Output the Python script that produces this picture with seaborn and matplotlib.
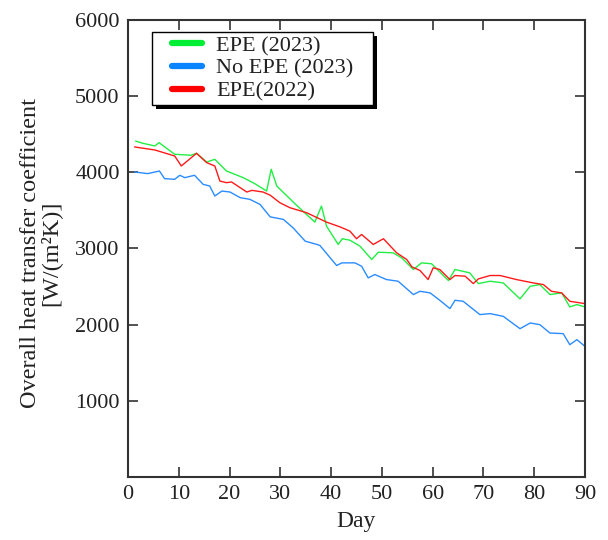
import matplotlib
matplotlib.use("Agg")
import matplotlib.pyplot as plt
import seaborn as sns
import pandas as pd
from matplotlib.lines import Line2D
from matplotlib.patches import Rectangle
from matplotlib.transforms import IdentityTransform

# ---- data ----
green_day = [1.5, 3, 5.3, 6.1, 9.2, 12.4, 13.5, 15.5, 17.1, 19.4, 22.7, 25, 27.3, 28.2, 29.3,
             33, 36.8, 38.1, 39.1, 41.4, 42.2, 43.7, 45.7, 48, 49.3, 52.2, 53.9, 56.2, 57.8,
             59.8, 63.1, 64.4, 67.3, 69, 71.3, 73.9, 77.2, 79.2, 81.1, 83.1, 85.4, 87, 88.4, 90]
green_val = [4410, 4380, 4346, 4390, 4237, 4224, 4250, 4135, 4171, 4017, 3930, 3850, 3754, 4040, 3820,
             3580, 3346, 3557, 3293, 3053, 3128, 3109, 3030, 2855, 2951, 2943, 2877, 2724, 2811,
             2799, 2579, 2724, 2680, 2539, 2570, 2548, 2338, 2504, 2526, 2395, 2417, 2233, 2263, 2233]

red_day = [1.3, 5.3, 9.2, 10.5, 13.5, 15.5, 17.1, 18.1, 19.4, 20.4, 23.4, 24.4, 26.6, 28, 29.9,
           31.9, 35.2, 39.1, 41.7, 43.7, 45, 46, 48.3, 50.3, 52.9, 54.9, 55.9, 57.5, 59.1, 60.1,
           61.4, 63.4, 64.4, 66.4, 68, 69, 71.3, 73.3, 76.5, 79.8, 81.8, 83.4, 85.4, 87, 90]
red_val = [4333, 4293, 4214, 4083, 4250, 4127, 4083, 3885, 3864, 3873, 3741, 3763, 3741, 3700, 3601,
           3535, 3469, 3346, 3285, 3228, 3128, 3184, 3053, 3128, 2943, 2855, 2759, 2711, 2592, 2746,
           2724, 2592, 2645, 2636, 2539, 2601, 2645, 2645, 2592, 2548, 2526, 2438, 2417, 2307, 2276]

blue_day = [1.3, 3.9, 6.2, 7.2, 9.2, 10.2, 11.2, 13.1, 14.8, 16.1, 17.1, 18.5, 20.1, 22.1, 24, 26,
            28, 30.6, 32.5, 34.9, 37.2, 37.8, 40.1, 41.1, 42.1, 44.7, 46, 47.3, 48.6, 50.9, 53.2,
            56.2, 57.5, 59.5, 61.4, 63.4, 64.4, 66, 69.3, 71.3, 73.9, 77.2, 79.2, 81.1, 83.1, 85.7,
            87, 88.4, 90]
blue_val = [4004, 3983, 4017, 3917, 3908, 3961, 3930, 3961, 3842, 3820, 3689, 3754, 3741, 3667, 3645, 3579,
            3415, 3382, 3272, 3096, 3053, 3039, 2855, 2776, 2811, 2811, 2767, 2614, 2658, 2592, 2570,
            2395, 2438, 2417, 2320, 2211, 2320, 2307, 2132, 2145, 2109, 1947, 2022, 2000, 1890, 1882,
            1737, 1803, 1715]

series_names = ["EPE (2023)", "No EPE (2023)", "EPE(2022)"]
line_colors = ["#22ee44", "#2a8cff", "#ff1a1a"]
legend_colors = ["#00ee33", "#0a84ff", "#ff0000"]
x_ticks = [0, 10, 20, 30, 40, 50, 60, 70, 80, 90]
y_ticks = [1000, 2000, 3000, 4000, 5000, 6000]

df = pd.concat([
    pd.DataFrame({"Day": green_day, "U": green_val, "series": series_names[0]}),
    pd.DataFrame({"Day": blue_day, "U": blue_val, "series": series_names[1]}),
    pd.DataFrame({"Day": red_day, "U": red_val, "series": series_names[2]}),
], ignore_index=True)

sns.set_theme(style="white")
plt.rcParams["font.family"] = ["Liberation Serif", "DejaVu Serif"]

fig = plt.figure(figsize=(6.08, 5.40), dpi=100)
ax = fig.add_axes([0.2105, 0.1167, 0.7517, 0.8463])

palette = dict(zip(series_names, line_colors))
sns.lineplot(data=df, x="Day", y="U", hue="series", palette=palette,
             estimator=None, sort=False, linewidth=1.0, legend=False, ax=ax)

ax.set_xlim(0, 90)
ax.set_ylim(0, 6000)
ax.set_xticks(x_ticks)
ax.set_yticks(y_ticks)
ax.set_xticklabels([str(t) for t in x_ticks], fontsize=16)
ax.set_yticklabels([str(t) for t in y_ticks], fontsize=16)
ax.tick_params(direction="in", length=7, width=1.2, color="#333333",
               top=True, right=True, bottom=True, left=True, pad=6, labelcolor="#222222")
for sp in ax.spines.values():
    sp.set_color("#333333")
    sp.set_linewidth(1.5)

ax.set_xlabel("Day", fontsize=17, color="#222222", labelpad=5)
ax.set_ylabel("Overall heat transfer coefficient\n[W/(m²K)]", fontsize=17.5,
              color="#222222", linespacing=0.92)
ax.yaxis.set_label_coords(-0.145, 0.49)

handles = [Line2D([0], [0], color=c, lw=4.5, solid_capstyle="round") for c in legend_colors]
leg = ax.legend(handles, series_names, loc="upper left", bbox_to_anchor=(0.096, 0.966),
                borderaxespad=0, fontsize=16, frameon=False, handlelength=1.35,
                handletextpad=0.65, labelspacing=0.1, borderpad=0)
leg.set_zorder(5)
for t in leg.get_texts():
    t.set_color("#222222")

# legend frame with a hard black drop shadow
fig.canvas.draw()
bb = leg.get_window_extent(fig.canvas.get_renderer())
pad_l, pad_r = 20, 19
pad_v = max(3.0, (73 - bb.height) / 2.0)
x0, y0 = bb.x0 - pad_l, bb.y0 - pad_v
w, h = bb.width + pad_l + pad_r, bb.height + 2 * pad_v
shadow = Rectangle((x0 + 4, y0 - 4), w, h, transform=IdentityTransform(),
                   facecolor="black", edgecolor="black", lw=0, zorder=4.3, clip_on=False)
frame = Rectangle((x0, y0), w, h, transform=IdentityTransform(),
                  facecolor="white", edgecolor="black", lw=1.0, zorder=4.4, clip_on=False)
ax.add_artist(shadow)
ax.add_artist(frame)

fig.savefig("out.png", dpi=100)
